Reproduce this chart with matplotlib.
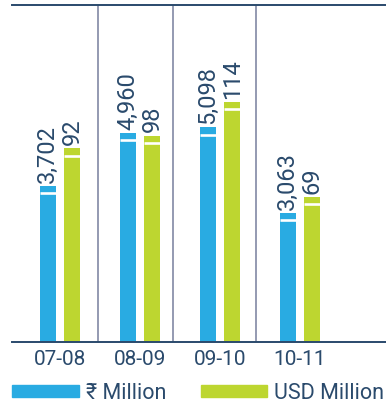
import matplotlib
matplotlib.use("Agg")
import matplotlib.pyplot as plt
from matplotlib.patches import Patch
import numpy as np

years = ["07-08", "08-09", "09-10", "10-11"]
inr_million = [3702, 4960, 5098, 3063]
usd_million = [92, 98, 114, 69]
inr_labels = ["3,702", "4,960", "5,098", "3,063"]
usd_labels = ["92", "98", "114", "69"]

BLUE = "#29abe2"
GREEN = "#bdd630"
NAVY = "#2a4a6c"
SEP = "#8b92ab"

plt.rcParams["font.family"] = ["Roboto", "DejaVu Sans"]
narrow = ["Liberation Sans Narrow", "Roboto", "DejaVu Sans"]

fig = plt.figure(figsize=(3.86, 4.06), dpi=100)
ax = fig.add_axes([12 / 386, 63 / 406, 374 / 386, 337 / 406])
ax2 = ax.twinx()

x = np.arange(len(years))
w = 0.2
off = 0.153
ax.set_xlim(-0.6, 4.075)
ax.set_ylim(0, 8000)
ax2.set_ylim(0, 160)


def draw(axis, xs, vals, labels, color):
    axis.bar(xs, vals, width=w, color=color, zorder=2)
    # white notch a few pixels under the top of each bar
    top = axis.get_ylim()[1]
    px = top / 337.0
    for xi, v, lab in zip(xs, vals, labels):
        axis.hlines(v - 7.3 * px, xi - w / 2, xi + w / 2, color="white",
                    lw=1.9, zorder=3)
        axis.annotate(lab, (xi, v), xytext=(0, 3), textcoords="offset points",
                      rotation=90, ha="center", va="bottom", fontsize=17,
                      color=NAVY, family=narrow)


draw(ax, x - off, inr_million, inr_labels, BLUE)
draw(ax2, x + off, usd_million, usd_labels, GREEN)

# separators between the year groups
seps = [0.47, 1.41, 2.45]
for sx in seps:
    ax.axvline(sx, color=SEP, lw=1.3, zorder=1)

for a in (ax, ax2):
    a.set_yticks([])
    for s in a.spines.values():
        s.set_visible(False)
for s in ("top", "bottom"):
    ax2.spines[s].set_visible(True)
    ax2.spines[s].set_color(NAVY)
    ax2.spines[s].set_linewidth(1.4)
    ax2.spines[s].set_zorder(5)

ax.set_xticks(x)
ax.set_xticklabels(years, fontsize=15, color=NAVY)
ax.tick_params(axis="x", length=0, pad=5)
ax2.tick_params(axis="x", length=0)

handles = [Patch(color=BLUE, label="₹ Million"),
           Patch(color=GREEN, label="USD Million")]
fig.legend(handles=handles, loc="center left", bbox_to_anchor=(12 / 386, 12 / 406),
           ncol=2, frameon=False, fontsize=15.5, handlelength=3.1,
           handleheight=0.47, handletextpad=0.33, columnspacing=1.6,
           borderpad=0, borderaxespad=0, labelcolor=NAVY)

fig.savefig("out.png", dpi=100)
